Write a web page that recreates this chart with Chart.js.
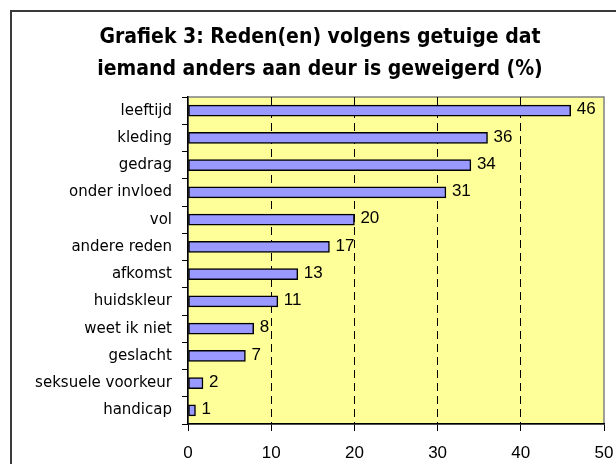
<!DOCTYPE html>
<html>
<head>
<meta charset="utf-8">
<script src="https://cdn.jsdelivr.net/npm/chart.js@4.4.0/dist/chart.umd.min.js"></script>
<style>
  html, body { margin: 0; padding: 0; background: #fff; overflow: hidden; }
  #wrap { width: 616px; height: 464px; position: relative; }
</style>
</head>
<body>
<div id="wrap"><canvas id="myChart" width="616" height="464"></canvas></div>
<script>
var titleLines = ['Grafiek 3: Reden(en) volgens getuige dat', 'iemand anders aan deur is geweigerd (%)'];
var categories = ['leeftijd', 'kleding', 'gedrag', 'onder invloed', 'vol', 'andere reden',
    'afkomst', 'huidskleur', 'weet ik niet', 'geslacht', 'seksuele voorkeur', 'handicap'];
var values = [46, 36, 34, 31, 20, 17, 13.2, 10.8, 7.9, 6.9, 1.8, 0.9];
var xTicks = [0, 10, 20, 30, 40, 50];

// frame, plot background and title
var decor = {
    id: 'decor',
    beforeDraw: function(chart) {
        var ctx = chart.ctx, a = chart.chartArea;
        ctx.save();
        ctx.fillStyle = '#ffffff';
        ctx.fillRect(0, 0, chart.width, chart.height);
        ctx.strokeStyle = '#3a3a3a';
        ctx.lineWidth = 2;
        ctx.strokeRect(11, 11, 700, 600);
        ctx.fillStyle = '#FFFF99';
        ctx.fillRect(a.left, a.top, a.right - a.left, a.bottom - a.top);
        ctx.strokeStyle = '#808080';
        ctx.lineWidth = 1.5;
        ctx.strokeRect(a.left, a.top, a.right - a.left, a.bottom - a.top);
        ctx.fillStyle = '#000';
        ctx.font = 'bold 21px "DejaVu Sans Condensed", "DejaVu Sans", sans-serif';
        ctx.textAlign = 'center';
        ctx.textBaseline = 'alphabetic';
        ctx.fillText(titleLines[0], 320, 43);
        ctx.fillText(titleLines[1], 320, 75);
        ctx.restore();
    },
    afterDatasetsDraw: function(chart) {
        var ctx = chart.ctx;
        var meta = chart.getDatasetMeta(0);
        ctx.save();
        ctx.fillStyle = '#000';
        ctx.font = '17px "Liberation Sans", Arial, sans-serif';
        ctx.textAlign = 'left';
        ctx.textBaseline = 'middle';
        meta.data.forEach(function(bar, i) {
            ctx.fillText(Math.round(values[i]), bar.x + 6, bar.y - 1);
        });
        ctx.restore();
    }
};

var ctx = document.getElementById('myChart').getContext('2d');
var chart = new Chart(ctx, {
    type: 'bar',
    data: {
        labels: categories,
        datasets: [{
            data: values,
            backgroundColor: '#9999FF',
            borderColor: '#000000',
            borderWidth: 1.5,
            borderSkipped: false,
            barThickness: 11
        }]
    },
    options: {
        indexAxis: 'y',
        responsive: false,
        animation: false,
        layout: { padding: { top: 97, right: 12, left: 0, bottom: 0 } },
        plugins: {
            legend: { display: false },
            title: { display: false },
            tooltip: { enabled: false }
        },
        scales: {
            x: {
                min: 0,
                max: 50,
                afterBuildTicks: function(scale) {
                    scale.ticks = xTicks.map(function(v) { return { value: v }; });
                },
                afterFit: function(scale) {
                    scale.height = 40;
                    scale.paddingRight = 0;
                    scale.paddingLeft = 0;
                },
                grid: {
                    color: function(c) {
                        return (c.tick && c.tick.value > 0 && c.tick.value < 50) ? '#000' : 'rgba(0,0,0,0)';
                    },
                    lineWidth: 1,
                    tickColor: '#000',
                    tickLength: 7,
                    tickBorderDash: []
                },
                border: { display: true, color: '#000', width: 1.5, dash: [8, 5] },
                ticks: {
                    color: '#000',
                    padding: 12,
                    maxRotation: 0,
                    font: { family: '"Liberation Sans", Arial, sans-serif', size: 17 }
                }
            },
            y: {
                afterFit: function(scale) { scale.width = 188; },
                grid: {
                    drawOnChartArea: false,
                    color: '#000',
                    tickColor: '#000',
                    tickLength: 6,
                    offset: true
                },
                border: { display: true, color: '#000', width: 1.5 },
                ticks: {
                    color: '#000',
                    padding: 10,
                    font: { family: '"DejaVu Sans", sans-serif', size: 15 }
                }
            }
        }
    },
    plugins: [decor]
});
</script>
</body>
</html>
